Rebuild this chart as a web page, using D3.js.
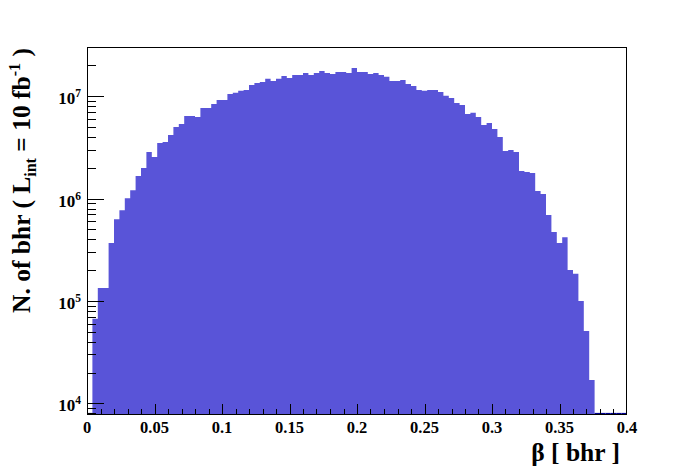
<!DOCTYPE html>
<html>
<head>
<meta charset="utf-8">
<script src="https://cdn.jsdelivr.net/npm/d3@7"></script>
<style>
  html, body { margin: 0; padding: 0; background: #fff; }
  svg { display: block; }
  text { font-family: "Liberation Serif", "Times New Roman", serif; font-weight: bold; fill: #000; }
</style>
</head>
<body>
<svg id="chart" width="696" height="472"></svg>
<script>
// ---------------- data ----------------
const xRange = [0, 0.4];
const nBins = 100;
const counts = [
  0, 6.7e4, 1.34e5, 1.34e5, 3.68e5, 6.3e5, 7.7e5, 1.01e6, 1.21e6, 1.66e6,
  1.99e6, 2.86e6, 2.55e6, 3.50e6, 3.58e6, 4.19e6, 5.01e6, 5.36e6, 6.42e6, 6.40e6,
  6.28e6, 7.7e6, 7.7e6, 8.4e6, 9.2e6, 9.2e6, 1.05e7, 1.08e7, 1.13e7, 1.15e7,
  1.29e7, 1.35e7, 1.38e7, 1.48e7, 1.41e7, 1.48e7, 1.58e7, 1.51e7, 1.61e7, 1.61e7,
  1.69e7, 1.61e7, 1.69e7, 1.77e7, 1.69e7, 1.65e7, 1.73e7, 1.73e7, 1.69e7, 1.89e7,
  1.73e7, 1.73e7, 1.65e7, 1.69e7, 1.61e7, 1.55e7, 1.41e7, 1.41e7, 1.44e7, 1.32e7,
  1.26e7, 1.15e7, 1.13e7, 1.15e7, 1.15e7, 1.10e7, 1.01e7, 9.6e6, 8.6e6, 8.2e6,
  6.7e6, 6.9e6, 6.28e6, 5.24e6, 5.48e6, 4.79e6, 4.0e6, 2.92e6, 2.99e6, 2.86e6,
  1.86e6, 1.82e6, 1.78e6, 1.19e6, 1.11e6, 6.9e5, 4.72e5, 3.68e5, 4.2e5, 2.01e5,
  1.84e5, 1.0e5, 5.1e4, 1.69e4, 0, 0, 0, 0, 0, 0
];
const yRange = [7690, 3.03e7];
const xTickValues = [0, 0.05, 0.1, 0.15, 0.2, 0.25, 0.3, 0.35, 0.4];
const xTickLabels = ["0", "0.05", "0.1", "0.15", "0.2", "0.25", "0.3", "0.35", "0.4"];
const yDecades = [4, 5, 6, 7];
const xTitle = "β [ bhr ]";

// ---------------- layout ----------------
const m = { left: 87, right: 627, top: 47, bottom: 415 };
const fillColor = "#5954d8";

const svg = d3.select("#chart");
const x = d3.scaleLinear().domain(xRange).range([m.left, m.right]);
const y = d3.scaleLog().domain(yRange).range([m.bottom, m.top]);

const binW = (xRange[1] - xRange[0]) / nBins;
const bins = counts.map((v, i) => ({ x0: xRange[0] + i * binW, x1: xRange[0] + (i + 1) * binW, v }));

// histogram fill as one step path
let d = `M${x(bins[0].x0)},${m.bottom}`;
bins.forEach(b => {
  const yy = b.v > 0 ? Math.max(y(b.v), m.top) : m.bottom;
  d += `L${x(b.x0)},${yy}L${x(b.x1)},${yy}`;
});
d += `L${x(bins[bins.length - 1].x1)},${m.bottom}Z`;
svg.append("path").attr("d", d).attr("fill", fillColor).attr("stroke", "none");

// empty bins: outline at bottom
bins.filter(b => b.v <= 0).forEach(b => {
  svg.append("line")
    .attr("x1", x(b.x0)).attr("x2", x(b.x1))
    .attr("y1", m.bottom - 1.5).attr("y2", m.bottom - 1.5)
    .attr("stroke", "#000090").attr("stroke-width", 1.2);
});

// frame
svg.append("rect")
  .attr("x", m.left + 0.5).attr("y", m.top + 0.5)
  .attr("width", m.right - m.left - 1).attr("height", m.bottom - m.top - 1)
  .attr("fill", "none").attr("stroke", "#000").attr("stroke-width", 1);

// x ticks (every 0.01, major every 0.05)
const gx = svg.append("g");
for (let i = 0; i <= 40; i++) {
  const v = i * 0.01;
  const major = i % 5 === 0;
  const px = Math.min(Math.round(x(v)) + 0.5, m.right - 0.5);
  gx.append("line")
    .attr("x1", px).attr("x2", px)
    .attr("y1", m.bottom).attr("y2", m.bottom - (major ? 11 : 6))
    .attr("stroke", "#000").attr("stroke-width", 1);
}
xTickValues.forEach((v, i) => {
  gx.append("text")
    .attr("x", x(v)).attr("y", m.bottom + 18)
    .attr("text-anchor", "middle")
    .attr("font-size", 16.5)
    .text(xTickLabels[i]);
});

// y ticks (log)
const gy = svg.append("g");
for (let dec = 3; dec <= 7; dec++) {
  for (let k = 1; k <= 9; k++) {
    const v = k * Math.pow(10, dec);
    if (v < yRange[0] || v > yRange[1]) continue;
    const py = Math.round(y(v)) + 0.5;
    gy.append("line")
      .attr("x1", m.left).attr("x2", m.left + (k === 1 ? 17 : 9))
      .attr("y1", py).attr("y2", py)
      .attr("stroke", "#000").attr("stroke-width", 1);
  }
}
yDecades.forEach(e => {
  const t = gy.append("text")
    .attr("x", 81).attr("y", y(Math.pow(10, e)) + 8)
    .attr("text-anchor", "end")
    .attr("font-size", 17);
  t.append("tspan").text("10");
  t.append("tspan").attr("dy", -7).attr("font-size", 11.5).text(String(e));
});

// y title
const yt = svg.append("text")
  .attr("transform", `translate(30,${m.top + 1}) rotate(-90)`)
  .attr("text-anchor", "end")
  .attr("font-size", 25.5);
yt.append("tspan").text("N. of bhr ( L");
yt.append("tspan").attr("dy", 6).attr("font-size", 16).text("int");
yt.append("tspan").attr("dy", -6).text(" = 10 fb");
yt.append("tspan").attr("dy", -10).attr("font-size", 16).text("-1");
yt.append("tspan").attr("dy", 10).text(" )");

// x title
svg.append("text")
  .attr("x", 620).attr("y", 461)
  .attr("text-anchor", "end")
  .attr("font-size", 25.5)
  .text(xTitle);
</script>
</body>
</html>
